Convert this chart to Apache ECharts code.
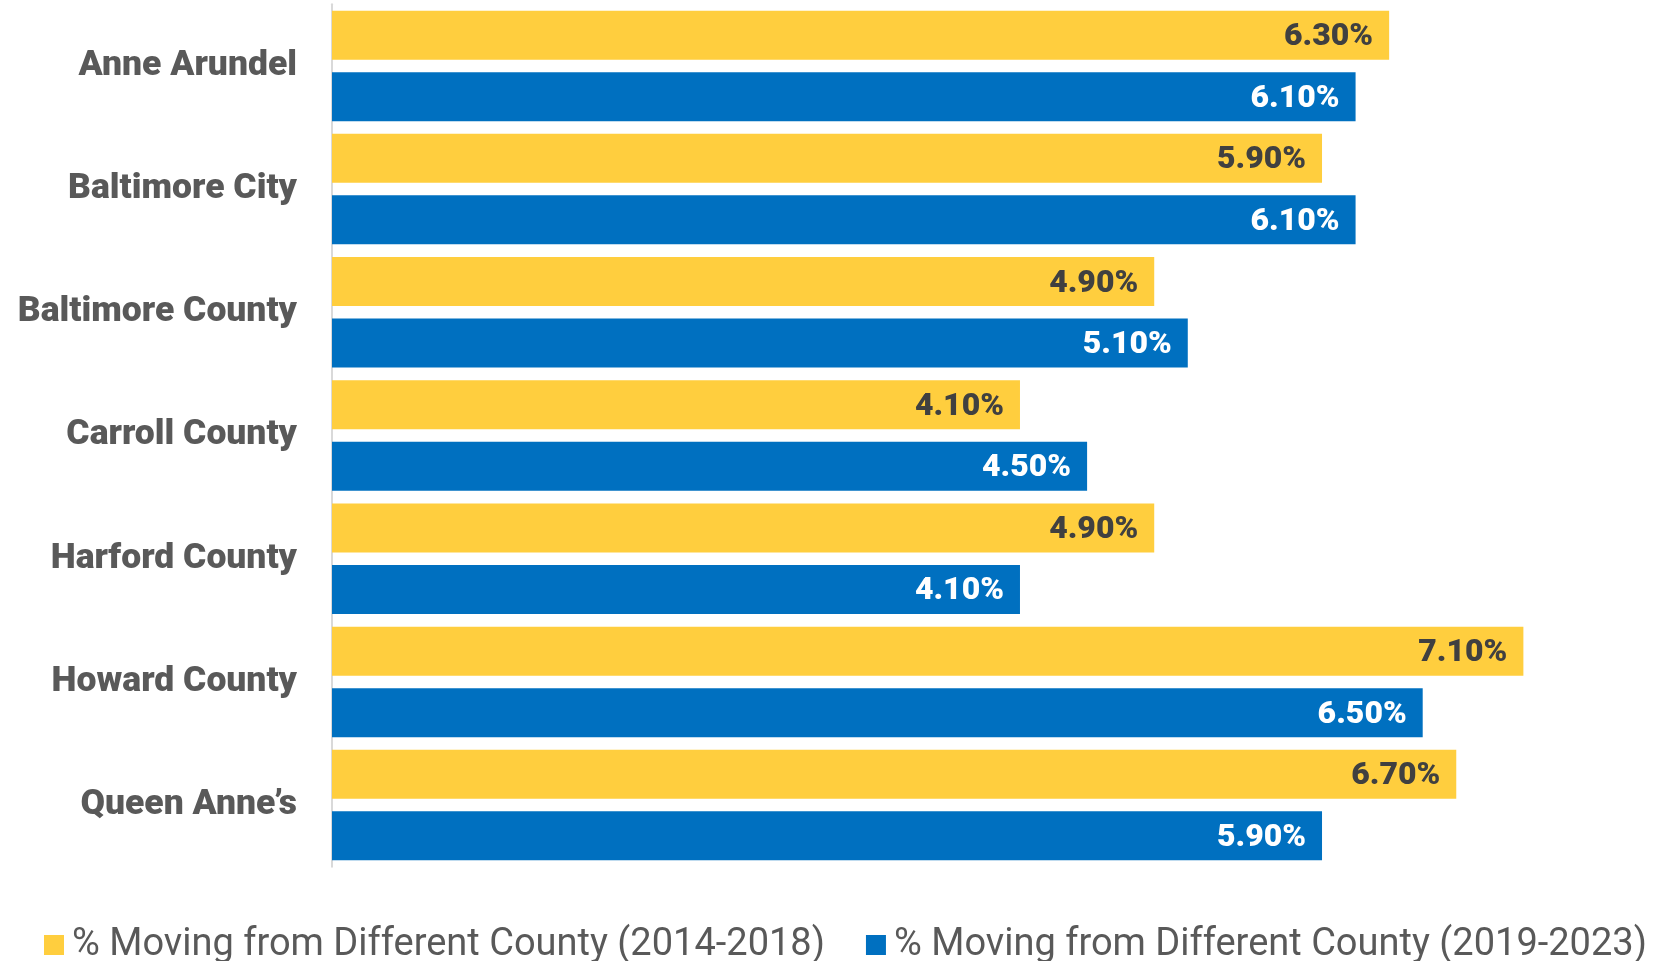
<!DOCTYPE html>
<html>
<head>
<meta charset="utf-8">
<script src="https://cdn.jsdelivr.net/npm/echarts@6/dist/echarts.min.js"></script>
<style>
html,body{margin:0;padding:0;background:#fff;}
#chart{width:1661px;height:961px;}
</style>
</head>
<body>
<div id="chart"></div>
<script>
const categories = ["Anne Arundel", "Baltimore City", "Baltimore County", "Carroll County", "Harford County", "Howard County", "Queen Anne\u2019s"];
const seriesNames = ["% Moving from Different County (2014-2018)", "% Moving from Different County (2019-2023)"];
const values2014_2018 = [6.3, 5.9, 4.9, 4.1, 4.9, 7.1, 6.7];
const values2019_2023 = [6.1, 6.1, 5.1, 4.5, 4.1, 6.5, 5.9];

const chart = echarts.init(document.getElementById('chart'), null, {renderer: 'canvas'});
const fmt = p => p.value.toFixed(2) + '%';
chart.setOption({
  backgroundColor: '#ffffff',
  animation: false,
  grid: {left: 332, right: 70.5, top: 4.3, bottom: 94.3},
  legend: {
    left: 39,
    top: 921,
    itemWidth: 20,
    itemHeight: 20,
    itemGap: 41,
    icon: 'rect',
    textStyle: {fontFamily: 'Roboto', fontSize: 38, color: '#595959', padding: [0, 0, 0, 3]},
    data: seriesNames
  },
  xAxis: {
    type: 'value',
    min: 0,
    max: 7.5,
    show: false,
    splitLine: {show: false}
  },
  yAxis: {
    type: 'category',
    inverse: true,
    data: categories,
    axisTick: {show: false},
    axisLine: {show: true, lineStyle: {color: '#D9D9D9', width: 2}},
    axisLabel: {fontFamily: 'Roboto', fontWeight: 900, fontSize: 35.5, color: '#595959', margin: 35, padding: [4, 0, 0, 0]}
  },
  series: [
    {
      name: seriesNames[0],
      type: 'bar',
      data: values2014_2018,
      barWidth: 49,
      barGap: '25.5%',
      itemStyle: {color: '#FFCE3E'},
      label: {show: true, position: 'insideRight', distance: 16, offset: [0, 2], formatter: fmt,
        fontFamily: 'Roboto', fontWeight: 900, fontSize: 32, color: '#404040'}
    },
    {
      name: seriesNames[1],
      type: 'bar',
      data: values2019_2023,
      barWidth: 49,
      barGap: '25.5%',
      itemStyle: {color: '#0070C0'},
      label: {show: true, position: 'insideRight', distance: 16, offset: [0, 2], formatter: fmt,
        fontFamily: 'Roboto', fontWeight: 900, fontSize: 32, color: '#ffffff'}
    }
  ]
});
</script>
</body>
</html>
